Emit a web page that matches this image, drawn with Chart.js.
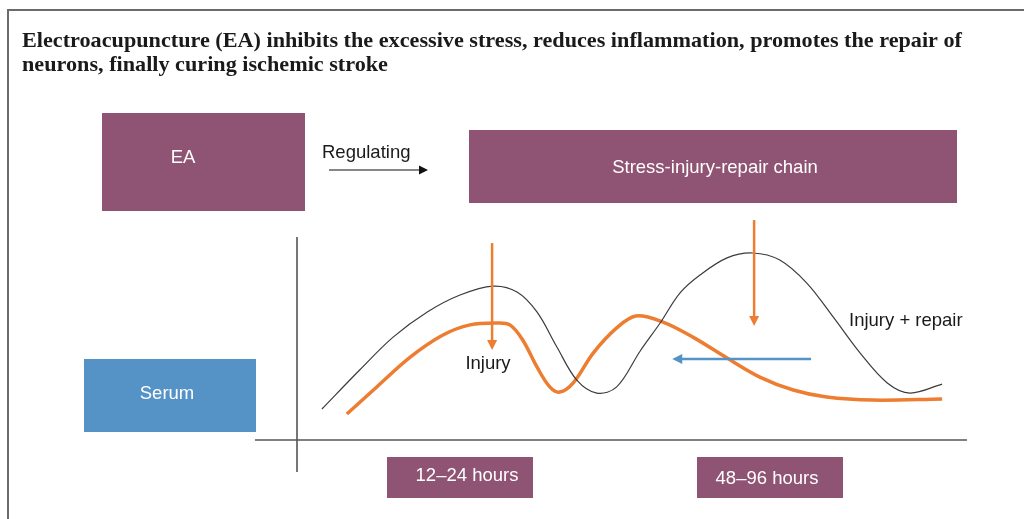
<!DOCTYPE html>
<html>
<head>
<meta charset="utf-8">
<script src="https://cdn.jsdelivr.net/npm/chart.js@4"></script>
<style>
  body { margin: 0; background: #fff; }
  canvas { display: block; }
</style>
</head>
<body>
<canvas id="chart" width="1024" height="519"></canvas>
<script>
// Conceptual curves (arbitrary units: time 0-100, level 0-100)
const injuryRepairX = [9.4, 14.7, 19.4, 24.2, 28.8, 33.4, 36.8, 39.6, 42.4, 45.2, 48.0, 50.8, 54.1, 56.9, 59.7, 62.5, 66.3, 69.9, 73.7, 77.5, 81.2, 85.0, 88.8, 92.0, 96.5];
const injuryRepairY = [26.8, 43.4, 57.4, 68.1, 75.3, 79.1, 76.6, 68.1, 53.2, 39.1, 33.6, 36.2, 51.5, 63.4, 76.2, 83.8, 91.1, 93.2, 90.2, 80.4, 66.0, 50.6, 37.9, 33.6, 37.4];
const serumX = [12.9, 17.1, 21.8, 26.4, 30.2, 34.0, 35.8, 37.6, 39.6, 41.4, 42.8, 44.7, 47.5, 50.8, 53.5, 57.3, 61.5, 66.3, 70.9, 75.6, 80.3, 86.8, 96.5];
const serumY = [24.7, 36.2, 48.9, 58.3, 62.6, 63.4, 62.6, 56.2, 44.7, 36.2, 34.0, 37.9, 50.6, 61.3, 66.4, 63.8, 57.4, 48.5, 40.4, 34.9, 31.9, 30.6, 31.1];

const titleLines = [
    'Electroacupuncture (EA) inhibits the excessive stress, reduces inflammation, promotes the repair of',
    'neurons, finally curing ischemic stroke'
];

const toPoints = (xs, ys) => xs.map((x, i) => ({ x: x, y: ys[i] }));

const PURPLE = '#8f5473';
const BLUE = '#5593c6';
const ORANGE = '#ed7d31';
const LABEL_FONT = '18.5px "Liberation Sans", Arial, sans-serif';

function arrow(ctx, x1, y1, x2, y2, color, width, head) {
    const a = Math.atan2(y2 - y1, x2 - x1);
    ctx.save();
    ctx.strokeStyle = color;
    ctx.fillStyle = color;
    ctx.lineWidth = width;
    ctx.beginPath();
    ctx.moveTo(x1, y1);
    ctx.lineTo(x2 - Math.cos(a) * head * 0.8, y2 - Math.sin(a) * head * 0.8);
    ctx.stroke();
    ctx.beginPath();
    ctx.moveTo(x2, y2);
    ctx.lineTo(x2 - head * Math.cos(a) + head * 0.5 * Math.sin(a), y2 - head * Math.sin(a) - head * 0.5 * Math.cos(a));
    ctx.lineTo(x2 - head * Math.cos(a) - head * 0.5 * Math.sin(a), y2 - head * Math.sin(a) + head * 0.5 * Math.cos(a));
    ctx.closePath();
    ctx.fill();
    ctx.restore();
}

function box(ctx, x, y, w, h, color, label, tx, ty) {
    ctx.fillStyle = color;
    ctx.fillRect(x, y, w, h);
    ctx.fillStyle = '#ffffff';
    ctx.font = LABEL_FONT;
    ctx.textAlign = 'center';
    ctx.textBaseline = 'middle';
    ctx.fillText(label, tx, ty);
}

const diagramPlugin = {
    id: 'diagram',
    beforeDatasetsDraw(chart) {
        const ctx = chart.ctx;
        const xs = chart.scales.x, ys = chart.scales.y;
        ctx.save();

        // frame
        ctx.strokeStyle = '#6b6b6b';
        ctx.lineWidth = 2;
        ctx.beginPath();
        ctx.moveTo(8, 519);
        ctx.lineTo(8, 10);
        ctx.lineTo(1024, 10);
        ctx.stroke();

        // title, condensed to the original width
        ctx.fillStyle = '#1a1a1a';
        ctx.font = 'bold 21px "Liberation Serif", "DejaVu Serif", serif';
        ctx.textAlign = 'left';
        ctx.textBaseline = 'alphabetic';
        const scale = 940 / ctx.measureText(titleLines[0]).width;
        ctx.save();
        ctx.translate(22, 0);
        ctx.scale(scale, 1);
        ctx.fillText(titleLines[0], 0, 47);
        ctx.fillText(titleLines[1], 0, 71);
        ctx.restore();

        // boxes
        box(ctx, 102, 113, 203, 98, PURPLE, 'EA', 183, 158);
        box(ctx, 469, 130, 488, 73, PURPLE, 'Stress-injury-repair chain', 715, 168);
        box(ctx, 84, 359, 172, 73, BLUE, 'Serum', 167, 394);
        box(ctx, 387, 457, 146, 41, PURPLE, '12\u201324 hours', 467, 476);
        box(ctx, 697, 457, 146, 41, PURPLE, '48\u201396 hours', 767, 479);

        // regulating arrow
        ctx.fillStyle = '#1a1a1a';
        ctx.font = LABEL_FONT;
        ctx.textAlign = 'left';
        ctx.textBaseline = 'middle';
        ctx.fillText('Regulating', 322, 153);
        arrow(ctx, 329, 170, 428, 170, '#111', 1.2, 9);

        // axes through the scales
        ctx.strokeStyle = '#555';
        ctx.lineWidth = 1.6;
        ctx.beginPath();
        ctx.moveTo(xs.getPixelForValue(0), ys.getPixelForValue(13.6));
        ctx.lineTo(xs.getPixelForValue(100), ys.getPixelForValue(13.6));
        ctx.moveTo(xs.getPixelForValue(5.9), ys.getPixelForValue(0));
        ctx.lineTo(xs.getPixelForValue(5.9), ys.getPixelForValue(100));
        ctx.stroke();

        ctx.restore();
    },
    afterDatasetsDraw(chart) {
        const ctx = chart.ctx;
        const xs = chart.scales.x, ys = chart.scales.y;
        const px = v => xs.getPixelForValue(v), py = v => ys.getPixelForValue(v);
        ctx.save();
        arrow(ctx, px(33.3), py(97.4), px(33.3), py(51.9), ORANGE, 2.5, 10);
        arrow(ctx, px(70.1), py(107.2), px(70.1), py(62.1), ORANGE, 2.5, 10);
        arrow(ctx, px(78.1), py(48.1), px(58.6), py(48.1), BLUE, 2.5, 10);

        ctx.fillStyle = '#1a1a1a';
        ctx.font = LABEL_FONT;
        ctx.textBaseline = 'middle';
        ctx.textAlign = 'center';
        ctx.fillText('Injury', 488, 364);
        ctx.textAlign = 'left';
        ctx.fillText('Injury + repair', 849, 321);
        ctx.restore();
    }
};

const ctx = document.getElementById('chart').getContext('2d');
new Chart(ctx, {
    type: 'line',
    data: {
        datasets: [{
            label: 'Injury + repair',
            data: toPoints(injuryRepairX, injuryRepairY),
            borderColor: '#3c3c3c',
            borderWidth: 1.2,
            pointRadius: 0,
            tension: 0.35,
            fill: false
        }, {
            label: 'Serum',
            data: toPoints(serumX, serumY),
            borderColor: ORANGE,
            borderWidth: 3.5,
            pointRadius: 0,
            tension: 0.35,
            fill: false
        }]
    },
    options: {
        responsive: false,
        animation: false,
        layout: { padding: { left: 255, right: 57, top: 237, bottom: 47 } },
        scales: {
            x: { type: 'linear', min: 0, max: 100, display: false },
            y: { type: 'linear', min: 0, max: 100, display: false }
        },
        plugins: {
            legend: { display: false },
            tooltip: { enabled: false }
        }
    },
    plugins: [diagramPlugin]
});
</script>
</body>
</html>
